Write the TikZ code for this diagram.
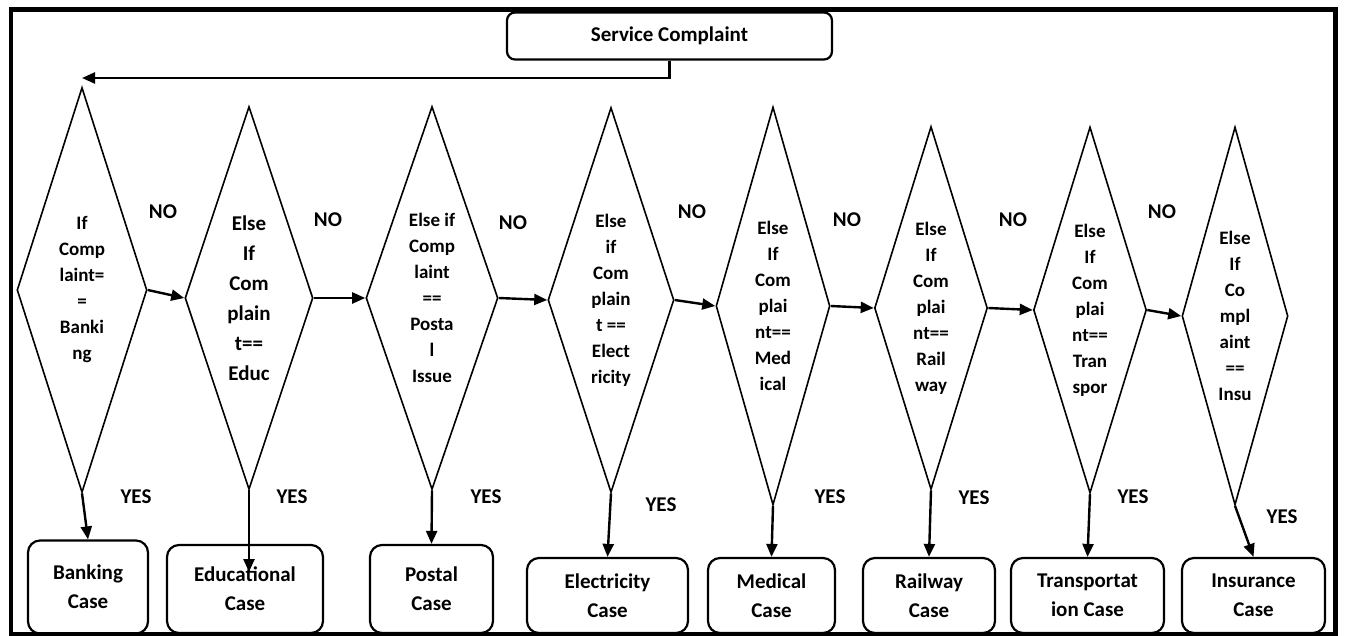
\documentclass[tikz,border=0pt]{standalone}
\usepackage{fontspec}
\setmainfont{Carlito}
\usetikzlibrary{arrows.meta, shapes.geometric}

\begin{document}
\begin{tikzpicture}[x=1pt, y=-1pt, >={Triangle[length=13pt, width=11pt]},
    decision/.style={draw, diamond, aspect=0.3, inner sep=0pt, line width=1.6pt, align=center, font=\fontsize{19}{26}\selectfont\bfseries},
    casebox/.style={draw, rectangle, rounded corners=12pt, line width=2.2pt, inner sep=0pt, align=center, font=\fontsize{21}{29}\selectfont\bfseries},
    answer/.style={font=\fontsize{21}{24}\selectfont\bfseries},
    flow/.style={->, line width=2.4pt}]
            \useasboundingbox (0,0) rectangle (1346,636);

            \node[casebox, rounded corners=8pt, minimum width=325pt, minimum height=47pt] (0) at (669.5,36) {Service Complaint};

            \node[decision, minimum width=130pt, minimum height=405pt] (d1) at (82,290) {If\\Comp\\laint=\\=\\Banki\\ng};
            \node[decision, minimum width=128pt, minimum height=383pt, font=\fontsize{21}{30}\selectfont\bfseries] (d2) at (249,298) {Else\\If\\Com\\plain\\t==\\Educ};
            \node[decision, minimum width=132pt, minimum height=383pt] (d3) at (432,298) {Else if\\Comp\\laint\\==\\Posta\\l\\Issue};
            \node[decision, minimum width=126pt, minimum height=385pt] (d4) at (611,300) {Else\\if\\Com\\plain\\t ==\\Elect\\ricity};
            \node[decision, minimum width=114pt, minimum height=398pt] (d5) at (773,306) {Else\\If\\Com\\plai\\nt==\\Med\\ical};
            \node[decision, minimum width=113pt, minimum height=363pt] (d6) at (931,308) {Else\\If\\Com\\plai\\nt==\\Rail\\way};
            \node[decision, minimum width=113pt, minimum height=366pt] (d7) at (1090,310) {Else\\If\\Com\\plai\\nt==\\Tran\\spor};
            \node[decision, minimum width=106pt, minimum height=378pt] (d8) at (1235,316) {Else\\If\\Co\\mpl\\aint\\==\\Insu};

            \node[casebox, minimum width=120pt, minimum height=93pt] (c1) at (88,587) {Banking\\Case};
            \node[casebox, minimum width=156pt, minimum height=88pt] (c2) at (245,589) {Educational\\Case};
            \node[casebox, minimum width=123pt, minimum height=88pt] (c3) at (431.5,589) {Postal\\Case};
            \node[casebox, minimum width=161pt, minimum height=75pt] (c4) at (607.5,595.5) {Electricity\\Case};
            \node[casebox, minimum width=127pt, minimum height=75pt] (c5) at (771.5,595.5) {Medical\\Case};
            \node[casebox, minimum width=132pt, minimum height=75pt] (c6) at (929,595.5) {Railway\\Case};
            \node[casebox, minimum width=153pt, minimum height=75pt] (c7) at (1087.5,595.5) {Transportat\\ion Case};
            \node[casebox, minimum width=143pt, minimum height=75pt] (c8) at (1253.5,595.5) {Insurance\\Case};

            \node[answer] (no1) at (163,212) {NO};
            \node[answer] (no2) at (328,220) {NO};
            \node[answer] (no3) at (513,223) {NO};
            \node[answer] (no4) at (692,212) {NO};
            \node[answer] (no5) at (847,220) {NO};
            \node[answer] (no6) at (1013,220) {NO};
            \node[answer] (no7) at (1162,212) {NO};

            \node[answer] (yes1) at (136,497) {YES};
            \node[answer] (yes2) at (292,497) {YES};
            \node[answer] (yes3) at (486,497) {YES};
            \node[answer] (yes4) at (661,505) {YES};
            \node[answer] (yes5) at (830,497) {YES};
            \node[answer] (yes6) at (974,498) {YES};
            \node[answer] (yes7) at (1133,497) {YES};
            \node[answer] (yes8) at (1282,517) {YES};

            \coordinate (entry) at (82,78);
            \coordinate (edutip) at (249,572);

            \draw[flow] (0.south) |- (entry);

            \path[flow]
              (d1.east) edge (d2.west)
              (d2.east) edge (d3.west)
              (d3.east) edge (d4.west)
              (d4.east) edge (d5.west)
              (d5.east) edge (d6.west)
              (d6.east) edge (d7.west)
              (d7.east) edge (d8.west)
              (d1.south) edge (c1.north)
              (d2.south) edge (edutip)
              (d3.south) edge (c3.north)
              (d4.south) edge (c4.north)
              (d5.south) edge (c5.north)
              (d6.south) edge (c6.north)
              (d7.south) edge (c7.north)
              (d8.south) edge (c8.north)
            ;

            \draw[line width=4.5pt] (11,9.5) rectangle (1335.5,634);
          \end{tikzpicture}
\end{document}
